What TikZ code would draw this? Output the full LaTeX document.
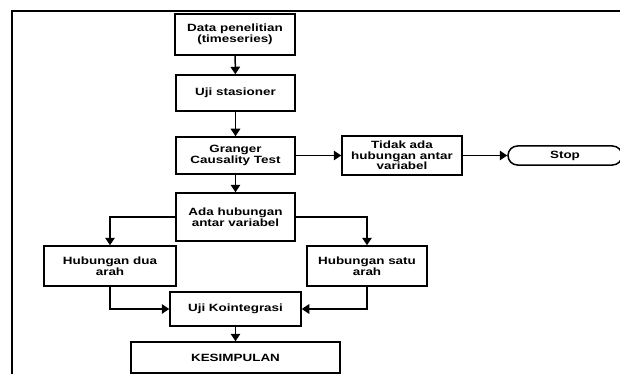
\documentclass[tikz,border=0pt]{standalone}
\usepackage{fontspec}
\setmainfont{Liberation Sans}[FakeStretch=1.28]
\usetikzlibrary{arrows.meta}
\tikzset{
  box/.style={draw, line width=1.5pt, minimum width=#1, inner sep=0pt, align=center,
    font=\bfseries\fontsize{10.5}{10.5}\selectfont},
  conn/.style={line width=1.5pt, -{Triangle[width=9.5pt,length=7.5pt]}},
  frame/.style={line width=2pt}
}
\begin{document}
\begin{tikzpicture}[x=1pt,y=-1pt]
\useasboundingbox (0,0) rectangle (620,374);
\draw[frame] (12,374) -- (12,11.5) -- (620,11.5);

\node[box=120pt, minimum height=41pt] (data) at (235,34.5) {Data penelitian\\(timeseries)};
\node[box=119pt, minimum height=36pt] (uji) at (235.5,93) {Uji stasioner};
\node[box=119pt, minimum height=37pt] (granger) at (235.5,155.5) {Granger\\Causality Test};
\node[box=120pt, minimum height=39pt] (tidak) at (402,155.5) {Tidak ada\\hubungan antar\\variabel};
\node[box=114pt, minimum height=19pt, rounded corners=9.5pt] (stop) at (565,155.5) {Stop};
\node[box=119pt, minimum height=48pt] (ada) at (235.5,217) {Ada hubungan\\antar variabel};
\node[box=132pt, minimum height=40pt] (dua) at (110,266) {Hubungan dua\\arah};
\node[box=120pt, minimum height=40pt] (satu) at (367,266) {Hubungan satu\\arah};
\node[box=131pt, minimum height=34pt] (koin) at (235.5,309) {Uji Kointegrasi};
\node[box=209pt, minimum height=31pt] (kesim) at (235.5,357.5) {KESIMPULAN};

\draw[conn] (data) -- (uji);
\draw[conn] (uji) -- (granger);
\draw[conn] (granger) -- (ada);
\draw[conn] (granger) -- (tidak);
\draw[conn] (tidak) -- (stop);
\draw[conn] (ada.west) -| (dua.north);
\draw[conn] (ada.east) -| (satu.north);
\draw[conn] (dua.south) |- (koin.west);
\draw[conn] (satu.south) |- (koin.east);
\draw[conn] (koin) -- (kesim);
\end{tikzpicture}
\end{document}
